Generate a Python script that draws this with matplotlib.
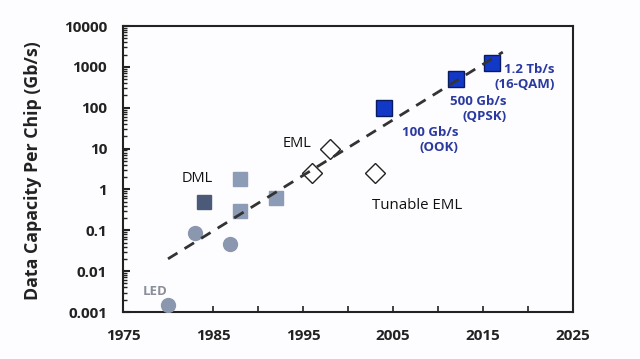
import matplotlib
matplotlib.use("Agg")
import matplotlib.pyplot as plt
from matplotlib.ticker import LogLocator, NullFormatter, FixedLocator

plt.rcParams['font.family'] = ['Open Sans', 'DejaVu Sans']

# Data
led_years = [1980, 1983, 1986.9]
led_vals = [0.0015, 0.085, 0.046]
dml_dark_years = [1984]
dml_dark_vals = [0.5]
dml_years = [1988, 1988, 1992]
dml_vals = [1.75, 0.29, 0.6]
eml_years = [1996, 1998, 2003]
eml_vals = [2.5, 10, 2.5]
coh_years = [2004, 2012, 2016]
coh_vals = [100, 500, 1230]
trend_years = [1980, 2017.2]
trend_vals = [0.02, 2300]

xticks = [1975, 1985, 1995, 2005, 2015, 2025]
yticks = [0.001, 0.01, 0.1, 1, 10, 100, 1000, 10000]
ytick_labels = ['0.001', '0.01', '0.1', '1', '10', '100', '1000', '10000']

fig = plt.figure(figsize=(6.4, 3.59), dpi=100, facecolor='#fdfcfe')
ax = fig.add_axes([123/640, 1 - 312/359, 450/640, 286/359])
ax.set_facecolor('#fdfcfe')
ax.set_yscale('log')
ax.set_xlim(1975, 2025)
ax.set_ylim(0.001, 10000)

ax.plot(led_years, led_vals, 'o', ms=10, color='#8a97ae', mec='#8a97ae', zorder=3)
ax.plot(dml_dark_years, dml_dark_vals, 's', ms=10.5, color='#4b5a78', mec='#4b5a78', zorder=3)
ax.plot(dml_years, dml_vals, 's', ms=10.5, color='#8c9bb6', mec='#8c9bb6', zorder=3)
ax.plot(eml_years, eml_vals, 'D', ms=10, mfc='white', mec='#222222', mew=1.0, zorder=3)
ax.plot(coh_years, coh_vals, 's', ms=11, color='#1238c8', mec='#0a1a60', mew=1.0, zorder=3)
ax.plot(trend_years, trend_vals, '--', color='#333333', lw=2.0, dashes=(4, 3), zorder=4)

ax.set_xticks(xticks)
ax.set_xticklabels([str(x) for x in xticks])
ax.xaxis.set_minor_locator(FixedLocator([1980, 1990, 2000, 2010, 2020]))
ax.set_yticks(yticks)
ax.set_yticklabels(ytick_labels)
ax.yaxis.set_minor_locator(LogLocator(base=10, subs=range(2, 10), numticks=20))
ax.yaxis.set_minor_formatter(NullFormatter())

ax.tick_params(axis='both', which='both', direction='in', color='#222222')
ax.tick_params(axis='x', which='both', length=4, width=1.2, pad=12)
ax.tick_params(axis='y', which='major', length=5, width=1.5, pad=11.5)
ax.tick_params(axis='y', which='minor', length=3, width=1.0)
ax.tick_params(axis='both', which='major', labelsize=11, labelcolor='#222222')
for lab in ax.get_xticklabels() + ax.get_yticklabels():
    lab.set_fontweight('bold')
for sp in ax.spines.values():
    sp.set_linewidth(1.5)
    sp.set_color('#222222')

ax.set_ylabel('Data Capacity Per Chip (Gb/s)', fontsize=12.8, fontweight='bold', color='#222222', labelpad=12)
ax.yaxis.set_label_coords(-(123 - 42) / 450, (312 - 171) / 286)

ax.text(1977.2, 0.0031, 'LED', fontsize=9.5, fontweight='bold', color='#8a8f99', ha='left', va='center')
ax.text(1983.3, 1.9, 'DML', fontsize=10.5, color='#111111', ha='center', va='center')
ax.text(1994.3, 13.5, 'EML', fontsize=10.5, color='#111111', ha='center', va='center')
ax.text(2002.7, 0.4, 'Tunable EML', fontsize=10.8, color='#111111', ha='left', va='center')
blue = '#2a3aa0'
ax.text(2012.3, 36, '100 Gb/s\n(OOK)', fontsize=9.5, fontweight='bold', color=blue,
        ha='right', va='top', multialignment='right', linespacing=1.2)
ax.text(2017.6, 210, '500 Gb/s\n(QPSK)', fontsize=9.5, fontweight='bold', color=blue,
        ha='right', va='top', multialignment='right', linespacing=1.2)
ax.text(2023.0, 1250, '1.2 Tb/s\n(16-QAM)', fontsize=9.5, fontweight='bold', color=blue,
        ha='right', va='top', multialignment='right', linespacing=1.2)

fig.savefig('out.png', dpi=100, facecolor=fig.get_facecolor())
